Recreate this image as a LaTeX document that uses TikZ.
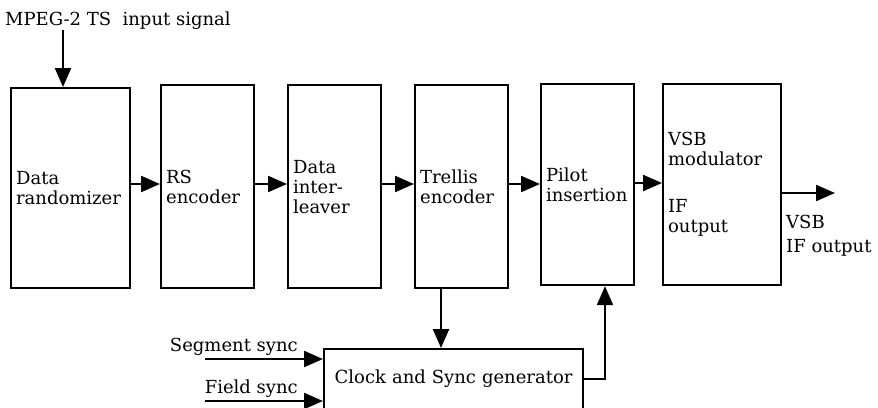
\documentclass[tikz,border=0pt]{standalone}
\usepackage{fontspec}
\newfontfamily\dejavu{DejaVu Serif}
\usetikzlibrary{arrows.meta}
\begin{document}
\begin{tikzpicture}[x=1pt,y=-1pt,
  txt/.style={font=\dejavu\fontsize{18}{20}\selectfont, inner sep=0pt},
  blk/.style={draw, line width=2.2pt, inner sep=5pt, align=left, anchor=north west,
              font=\dejavu\fontsize{18}{20}\selectfont},
  arr/.style={line width=2.2pt, -{Triangle[length=19pt,width=16pt]}}]
\useasboundingbox (0,0) rectangle (878,407);
\node[blk, text width=109pt, minimum height=200pt] (dr) at (10,87) {Data\\randomizer};
\node[blk, text width=83pt, minimum height=203pt] (rs) at (160,84) {RS\\encoder};
\node[blk, text width=83pt, minimum height=203pt] (di) at (287,84) {Data\\inter-\\leaver};
\node[blk, text width=83pt, minimum height=203pt] (te) at (414,84) {Trellis\\encoder};
\node[blk, text width=83pt, minimum height=201pt] (pi) at (540,83) {Pilot\\insertion};
\node[blk, text width=108pt, minimum height=201pt] (vsb) at (662,83) {VSB\\modulator\\[27pt]IF\\output};
\node[blk, align=center, text width=249pt, minimum height=60pt] (clk) at (323,348) {Clock and Sync generator};
\node[txt, anchor=base west] (mpeg) at (5,25) {MPEG-2 TS\ \ input signal};
\node[txt, anchor=base east] (seg) at (298,351) {Segment sync};
\node[txt, anchor=base east] (fld) at (298,393) {Field sync};
\node[txt, align=left, anchor=north west] (out) at (786,215) {VSB\\[4pt]IF output};
\coordinate (top) at (63,30);
\coordinate (segs) at (205,359);
\coordinate (flds) at (205,401);
\coordinate (outend) at (835,193);
\draw[arr] (top) -- (dr.north -| top);
\draw[arr] (dr.east |- 0,184) -- (rs.west |- 0,184);
\draw[arr] (rs.east |- 0,184) -- (di.west |- 0,184);
\draw[arr] (di.east |- 0,184) -- (te.west |- 0,184);
\draw[arr] (te.east |- 0,184) -- (pi.west |- 0,184);
\draw[arr] (pi.east |- 0,183) -- (vsb.west |- 0,183);
\draw[arr] (vsb.east |- outend) -- (outend);
\draw[arr] (te.south -| 441,0) -- (clk.north -| 441,0);
\draw[arr] (clk.east) -| (pi.south -| 605,0);
\draw[arr] (segs) -- (clk.west |- segs);
\draw[arr] (flds) -- (clk.west |- flds);
\end{tikzpicture}
\end{document}
